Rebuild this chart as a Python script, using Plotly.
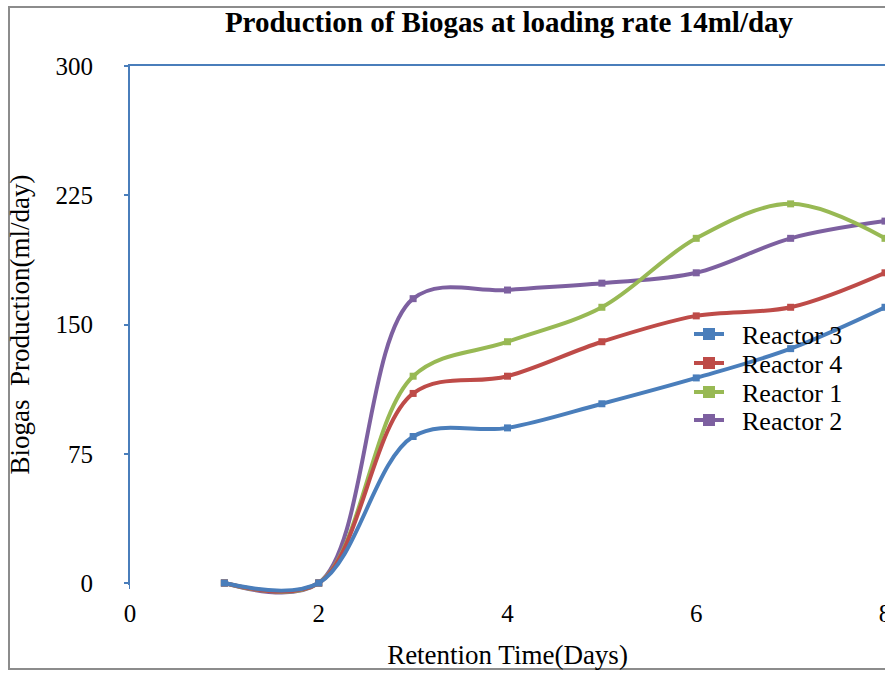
import plotly.graph_objects as go

days = [1, 2, 3, 4, 5, 6, 7, 8]
reactor3 = [0, 0, 85, 90, 104, 119, 136, 160]
reactor4 = [0, 0, 110, 120, 140, 155, 160, 180]
reactor1 = [0, 0, 120, 140, 160, 200, 220, 200]
reactor2 = [0, 0, 165, 170, 174, 180, 200, 210]

x_ticks = [0, 2, 4, 6, 8]
y_ticks = [0, 75, 150, 225, 300]

# drawing order (last on top); legend order is Reactor 3, 4, 1, 2
series = [
    ("Reactor 2", reactor2, "#7d60a0"),
    ("Reactor 1", reactor1, "#98b954"),
    ("Reactor 4", reactor4, "#be4b48"),
    ("Reactor 3", reactor3, "#4a7ebb"),
]
legend_order = ["Reactor 3", "Reactor 4", "Reactor 1", "Reactor 2"]

FONT = "Liberation Serif"
AX = "#4a7ebb"

W, H = 885, 673
L, T = 130, 66
AXIS_BOTTOM = 583      # pixel of y=0
PLOT_BOTTOM = 597      # extended area so curves can dip below zero
PH = PLOT_BOTTOM - T
Y_MAX = 300
Y_MIN_EXT = Y_MAX - PH * Y_MAX / (AXIS_BOTTOM - T)


def py(p):
    return (PLOT_BOTTOM - p) / PH


def px(p):
    return (p - L) / (W - L)


fig = go.Figure()
# invisible trace so the visible x/y axis pair forms a subplot
fig.add_trace(go.Scatter(x=[None], y=[None], xaxis="x", yaxis="y",
                         showlegend=False, hoverinfo="skip", mode="lines"))

for name, vals, col in series:
    fig.add_trace(go.Scatter(
        x=days, y=vals, name=name, mode="lines+markers", showlegend=False,
        xaxis="x", yaxis="y2",
        line=dict(color=col, width=4, shape="spline", smoothing=1),
        marker=dict(symbol="square", size=7, color=col),
    ))

colors = {n: c for n, _, c in series}
legend_y = [334, 363, 392, 420]
legend_layouts = {}
for i, name in enumerate(legend_order):
    lg = "legend" if i == 0 else f"legend{i + 1}"
    fig.add_trace(go.Scatter(
        x=[None], y=[None], name="\u00a0\u00a0" + name, mode="lines+markers", legend=lg,
        xaxis="x", yaxis="y2",
        line=dict(color=colors[name], width=4),
        marker=dict(symbol="square", size=12, color=colors[name]),
    ))
    legend_layouts[lg] = dict(
        x=px(689), y=py(legend_y[i]), xanchor="left", yanchor="middle",
        font=dict(family=FONT, size=26, color="black"),
        bgcolor="rgba(0,0,0,0)", itemwidth=30, borderwidth=0,
    )

fig.update_layout(
    width=W, height=H,
    margin=dict(l=L, r=0, t=T, b=H - PLOT_BOTTOM, autoexpand=False),
    paper_bgcolor="white", plot_bgcolor="white",
    font=dict(family=FONT, color="black"),
    title=dict(text="<b>Production of Biogas at loading rate 14ml/day</b>",
               x=509 / W, xanchor="center", y=1 - 22 / H, yanchor="middle",
               font=dict(family=FONT, size=29, color="black")),
    showlegend=True,
    shapes=[dict(type="rect", xref="paper", yref="paper",
                 x0=px(9), x1=1.1, y0=py(669), y1=py(7),
                 line=dict(color="#8c8c8c", width=2), fillcolor="rgba(0,0,0,0)", layer="below")],
    **legend_layouts,
)

fig.update_layout(
    xaxis=dict(
        range=[0, 8], tickvals=x_ticks, showgrid=False, zeroline=False, anchor="y",
        showline=True, linecolor=AX, linewidth=2, mirror=True, automargin=False,
        ticks="outside", ticklen=4, tickcolor=AX, tickwidth=2,
        tickfont=dict(family=FONT, size=25, color="black"), ticklabelstandoff=3,
        ticklabeloverflow="allow",
        title=dict(text="Retention Time(Days)", font=dict(family=FONT, size=27, color="black"), standoff=19),
    ),
    yaxis=dict(
        domain=[py(AXIS_BOTTOM), 1], anchor="x", automargin=False,
        range=[0, Y_MAX], tickvals=y_ticks, showgrid=False, zeroline=False,
        showline=True, linecolor=AX, linewidth=2,
        ticks="outside", ticklen=4, tickcolor=AX, tickwidth=2,
        tickfont=dict(family=FONT, size=25, color="black"), ticklabelstandoff=26,
        title=dict(text="Biogas\u00a0\u00a0Production(ml/day)", font=dict(family=FONT, size=27, color="black"), standoff=18),
    ),
    yaxis2=dict(
        domain=[0, 1], anchor="x", range=[Y_MIN_EXT, Y_MAX], visible=False,
        showgrid=False, zeroline=False, fixedrange=True, automargin=False,
    ),
)

fig.write_html("out.html")
